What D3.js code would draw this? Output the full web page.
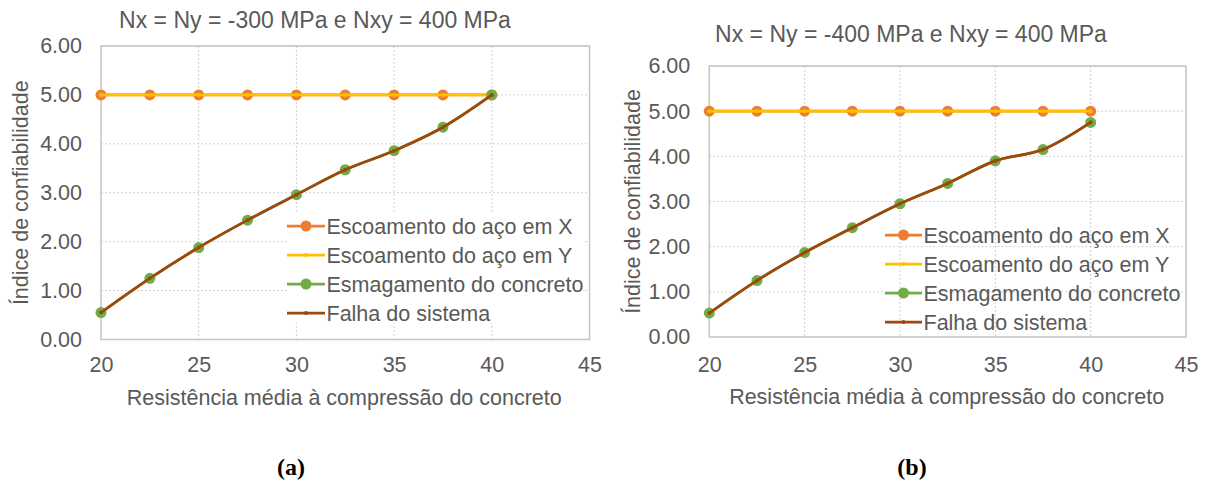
<!DOCTYPE html>
<html>
<head>
<meta charset="utf-8">
<script src="https://cdn.jsdelivr.net/npm/d3@7"></script>
<style>
  html, body { margin: 0; padding: 0; background: #ffffff; }
  svg { display: block; }
  text { font-family: "Liberation Sans", Arial, sans-serif; fill: #595959; }
  .caption { font-family: "Liberation Serif", "Times New Roman", serif; font-weight: bold; fill: #000; }
</style>
</head>
<body>
<svg id="chart" width="1205" height="482"></svg>
<script>
// Mean concrete compressive strength (MPa)
const resistencia = [20, 22.5, 25, 27.5, 30, 32.5, 35, 37.5, 40];

// Panel (a): Nx = Ny = -300 MPa, Nxy = 400 MPa
const escoamentoXa = [5, 5, 5, 5, 5, 5, 5, 5, 5];
const escoamentoYa = [5, 5, 5, 5, 5, 5, 5, 5, 5];
const esmagamentoA = [0.55, 1.25, 1.88, 2.44, 2.96, 3.47, 3.86, 4.34, 5.00];
const falhaA       = [0.55, 1.25, 1.88, 2.44, 2.96, 3.47, 3.86, 4.34, 5.00];

// Panel (b): Nx = Ny = -400 MPa, Nxy = 400 MPa
const escoamentoXb = [5, 5, 5, 5, 5, 5, 5, 5, 5];
const escoamentoYb = [5, 5, 5, 5, 5, 5, 5, 5, 5];
const esmagamentoB = [0.53, 1.25, 1.87, 2.42, 2.95, 3.40, 3.90, 4.15, 4.75];
const falhaB       = [0.53, 1.25, 1.87, 2.42, 2.95, 3.40, 3.90, 4.15, 4.75];

const xTicks = [20, 25, 30, 35, 40, 45];
const yTicks = [0, 1, 2, 3, 4, 5, 6];

const seriesNames = [
  "Escoamento do aço em X",
  "Escoamento do aço em Y",
  "Esmagamento do concreto",
  "Falha do sistema"
];
const titles = [
  "Nx = Ny = -300 MPa e Nxy = 400 MPa",
  "Nx = Ny = -400 MPa e Nxy = 400 MPa"
];
const xTitle = "Resistência média à compressão do concreto";
const yTitle = "Índice de confiabilidade";
const captions = ["(a)", "(b)"];

// Series styling: colour, marker radius
const styles = [
  { color: "#ED7D31", r: 5.5 },
  { color: "#FFC000", r: 2 },
  { color: "#70AD47", r: 5.5 },
  { color: "#9E480E", r: 2 }
];

const svg = d3.select("#chart");

function drawPanel(cfg) {
  const { left, right, top, bottom } = cfg.plot;
  const x = d3.scaleLinear().domain([20, 45]).range([left, right]);
  const y = d3.scaleLinear().domain([0, 6]).range([bottom, top]);
  const g = svg.append("g");

  // Gridlines (dotted)
  g.append("g").selectAll("line.h")
    .data(yTicks.slice(1)).join("line")
    .attr("x1", left).attr("x2", right)
    .attr("y1", d => y(d)).attr("y2", d => y(d))
    .attr("stroke", "#d0d0d0").attr("stroke-width", 1)
    .attr("stroke-dasharray", "2,2");
  g.append("g").selectAll("line.v")
    .data(xTicks.slice(1)).join("line")
    .attr("x1", d => x(d)).attr("x2", d => x(d))
    .attr("y1", top).attr("y2", bottom)
    .attr("stroke", "#d0d0d0").attr("stroke-width", 1)
    .attr("stroke-dasharray", "2,2");

  // Plot-area frame
  g.append("rect")
    .attr("x", left).attr("y", top)
    .attr("width", right - left).attr("height", bottom - top)
    .attr("fill", "none").attr("stroke", "#c4c4c4").attr("stroke-width", 1.5);

  // Axes via d3 axis generators, with domain/ticks lines hidden
  const yAxis = g.append("g")
    .attr("transform", `translate(${left},0)`)
    .call(d3.axisLeft(y).tickValues(yTicks).tickFormat(d3.format(".2f")).tickSize(0).tickPadding(19));
  yAxis.select(".domain").remove();
  yAxis.selectAll("text")
    .style("font-size", "21.5px").style("fill", "#595959")
    .style("font-family", "'Liberation Sans', Arial, sans-serif");

  const xAxis = g.append("g")
    .attr("transform", `translate(0,${bottom})`)
    .call(d3.axisBottom(x).tickValues(xTicks).tickFormat(d3.format("d")).tickSize(0).tickPadding(cfg.xPad));
  xAxis.select(".domain").remove();
  xAxis.selectAll("text")
    .style("font-size", "21.5px").style("fill", "#595959")
    .style("font-family", "'Liberation Sans', Arial, sans-serif");

  // Titles
  g.append("text")
    .attr("x", cfg.titleX).attr("y", cfg.titleY)
    .attr("text-anchor", "middle")
    .style("font-size", "23px")
    .text(cfg.title);

  g.append("text")
    .attr("x", (left + right) / 2 + cfg.xTitleDx).attr("y", cfg.xTitleY)
    .attr("text-anchor", "middle")
    .style("font-size", "21.5px")
    .text(xTitle);

  g.append("text")
    .attr("transform", `translate(${cfg.yTitleX},${(top + bottom) / 2}) rotate(-90)`)
    .attr("text-anchor", "middle")
    .attr("dy", "0.35em")
    .style("font-size", "21.5px")
    .text(yTitle);

  // Series
  const line = d3.line()
    .x((d, i) => x(resistencia[i]))
    .y(d => y(d))
    .curve(d3.curveCatmullRom.alpha(0.5));

  cfg.series.forEach((vals, si) => {
    const st = styles[si];
    g.append("path")
      .datum(vals)
      .attr("d", line)
      .attr("fill", "none")
      .attr("stroke", st.color)
      .attr("stroke-width", 2.75)
      .attr("stroke-linejoin", "round");
    g.append("g").selectAll("circle")
      .data(vals).join("circle")
      .attr("cx", (d, i) => x(resistencia[i]))
      .attr("cy", d => y(d))
      .attr("r", st.r)
      .attr("fill", st.color);
  });

  // Legend
  const lg = cfg.legend;
  if (lg.fill) {
    g.append("rect")
      .attr("x", lg.boxX).attr("y", lg.boxY)
      .attr("width", lg.boxW).attr("height", lg.boxH)
      .attr("fill", "#ffffff");
  }
  seriesNames.forEach((name, i) => {
    const cy = lg.y0 + i * lg.step;
    const st = styles[i];
    g.append("line")
      .attr("x1", lg.x1).attr("x2", lg.x2)
      .attr("y1", cy).attr("y2", cy)
      .attr("stroke", st.color).attr("stroke-width", 2.75);
    g.append("circle")
      .attr("cx", (lg.x1 + lg.x2) / 2).attr("cy", cy)
      .attr("r", st.r).attr("fill", st.color);
    g.append("text")
      .attr("x", lg.x2 + 1.5).attr("y", cy)
      .attr("dy", "0.35em")
      .style("font-size", "21.5px")
      .text(name);
  });

  // Panel caption
  svg.append("text")
    .attr("class", "caption")
    .attr("x", cfg.captionX).attr("y", 475)
    .attr("text-anchor", "middle")
    .style("font-size", "24px")
    .text(cfg.caption);
}

drawPanel({
  plot: { left: 101, right: 589.5, top: 46, bottom: 339.5 },
  xPad: 17, titleX: 315, titleY: 27.5,
  xTitleY: 405, xTitleDx: -1, yTitleX: 20,
  title: titles[0], caption: captions[0], captionX: 291,
  series: [escoamentoXa, escoamentoYa, esmagamentoA, falhaA],
  legend: { fill: true, boxX: 287, boxY: 213, boxW: 298, boxH: 110,
            x1: 287, x2: 325, y0: 226, step: 29 }
});

drawPanel({
  plot: { left: 709.3, right: 1186, top: 66, bottom: 337 },
  xPad: 20, titleX: 911, titleY: 41.5,
  xTitleY: 404, xTitleDx: -1, yTitleX: 632,
  title: titles[1], caption: captions[1], captionX: 912,
  series: [escoamentoXb, escoamentoYb, esmagamentoB, falhaB],
  legend: { fill: false, x1: 885, x2: 922, y0: 235, step: 29 }
});
</script>
</body>
</html>
